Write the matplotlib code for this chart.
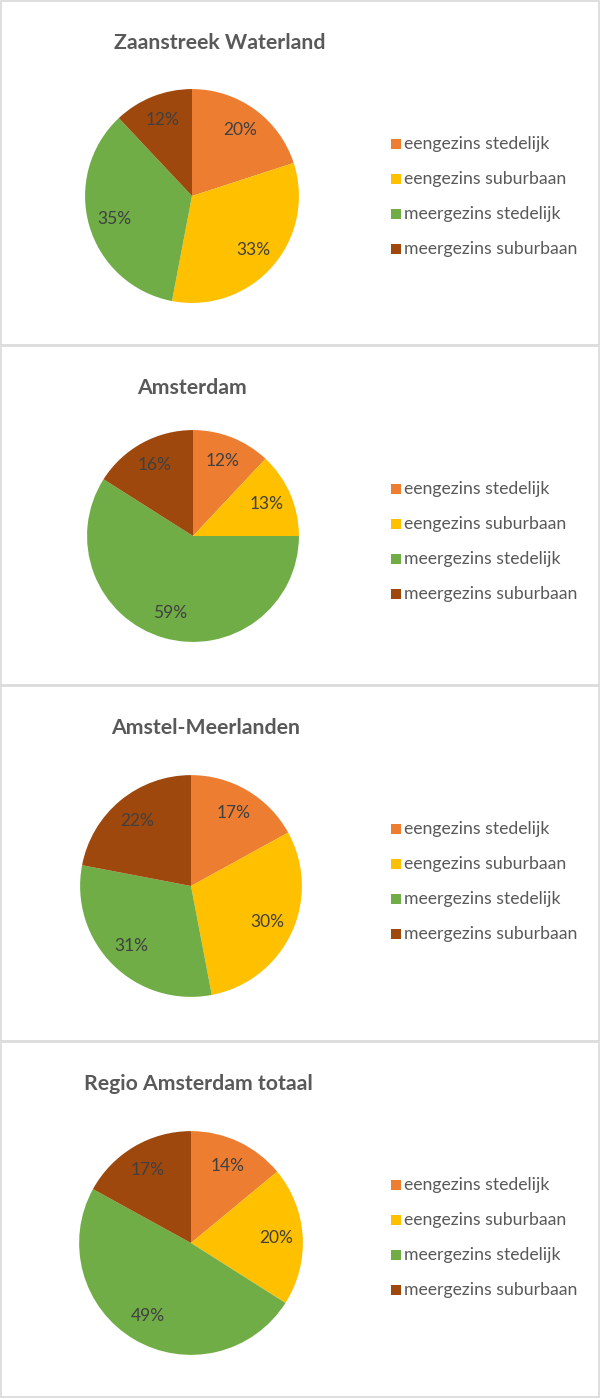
import matplotlib.pyplot as plt
from matplotlib.patches import Rectangle

# data
titles = ["Zaanstreek Waterland", "Amsterdam", "Amstel-Meerlanden", "Regio Amsterdam totaal"]
categories = ["eengezins stedelijk", "eengezins suburbaan", "meergezins stedelijk", "meergezins suburbaan"]
zaanstreek = [20, 33, 35, 12]
amsterdam = [12, 13, 59, 16]
amstel = [17, 30, 31, 22]
regio = [14, 20, 49, 17]
series = [zaanstreek, amsterdam, amstel, regio]

colors = ["#ED7D31", "#FFC000", "#70AD47", "#9E480E"]

plt.rcParams['font.family'] = ['Lato', 'DejaVu Sans']

W, H = 601, 1399
fig = plt.figure(figsize=(W / 100, H / 100), dpi=100)

# panel frames (pixel top, bottom), pie centre/radius, title x
panels = [(1, 345, 192, 196, 108, 220),
          (346, 685, 193, 536, 107, 192),
          (686, 1041, 191, 886, 112, 206),
          (1042, 1397, 191, 1243, 113, 198)]

for i, (top, bot, cx, cy, r, tx) in enumerate(panels):
    # frame
    fig.patches.append(Rectangle((1 / W, 1 - bot / H), (W - 3) / W, (bot - top) / H,
                                 transform=fig.transFigure, fill=False,
                                 edgecolor="#D9D9D9", linewidth=1.2))
    # pie axes
    ax = fig.add_axes([(cx - r) / W, 1 - (cy + r) / H, 2 * r / W, 2 * r / H])
    wedges, texts, autotexts = ax.pie(series[i], colors=colors, startangle=90,
                                      counterclock=False, autopct='%1.0f%%',
                                      pctdistance=0.76,
                                      wedgeprops=dict(linewidth=0),
                                      textprops=dict(color="#404040", fontsize=12.5))
    ax.set_xlim(-1.01, 1.01)
    ax.set_ylim(-1.01, 1.01)
    ax.set_aspect('equal')
    # title
    fig.text(tx / W, 1 - (top + 42) / H, titles[i], ha='center', va='center',
             fontsize=15.3, fontweight='bold', color="#595959")
    # legend
    for j, name in enumerate(categories):
        ly = top + 143 + j * 35
        fig.patches.append(Rectangle((391 / W, 1 - (ly + 5) / H), 10 / W, 10 / H,
                                     transform=fig.transFigure, facecolor=colors[j],
                                     edgecolor='none'))
        fig.text(404 / W, 1 - ly / H, name, ha='left', va='center',
                 fontsize=12.7, color="#595959")

plt.savefig("out.png", dpi=100)
